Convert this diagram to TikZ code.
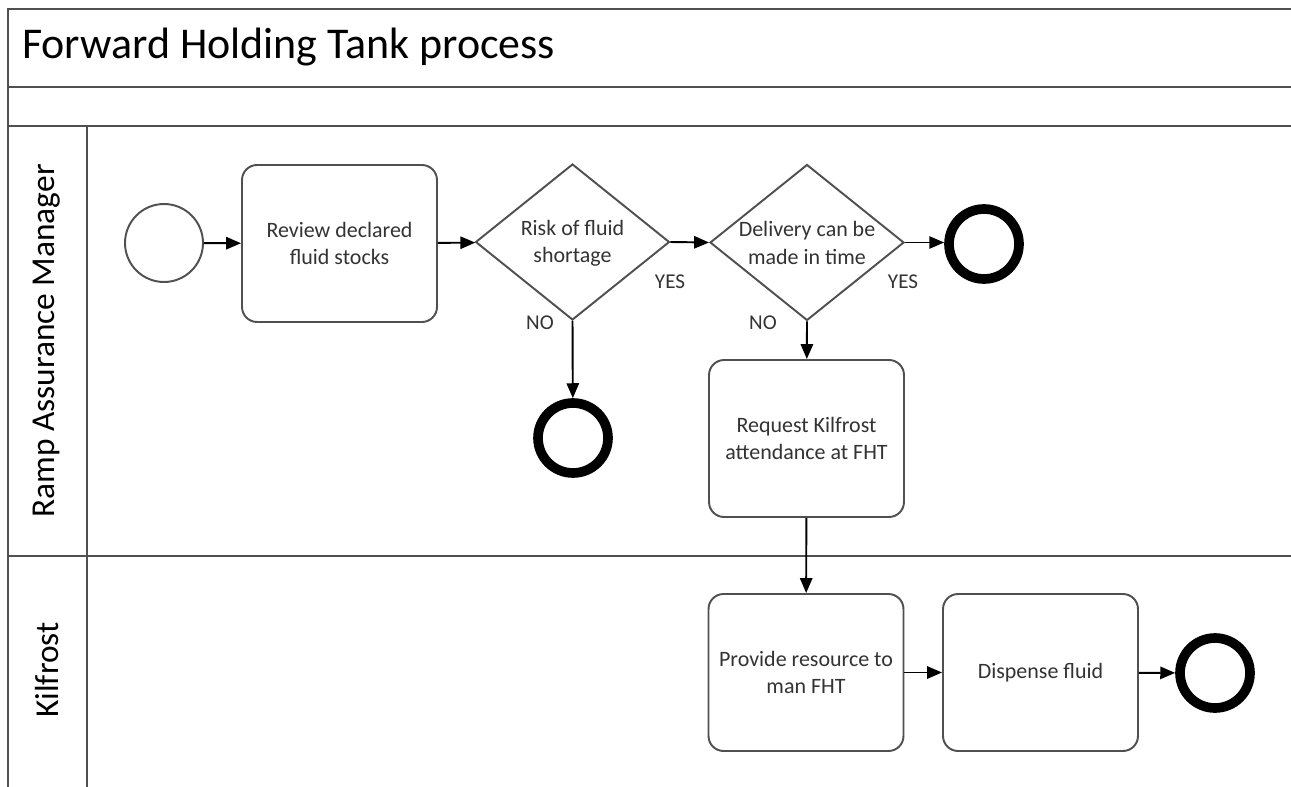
\documentclass[tikz,border=0pt]{standalone}
\usepackage{fontspec}
\setmainfont{Carlito}
\usetikzlibrary{shapes.geometric,arrows.meta}
\definecolor{linegray}{HTML}{505050}
\definecolor{txtgray}{HTML}{333333}
\tikzset{
  lane/.style={draw=linegray,line width=1.3pt},
  task/.style={draw=linegray,line width=1.1pt,rounded corners=0.3cm,minimum width=3.9cm,minimum height=3.14cm,inner sep=0pt},
  gate/.style={draw=linegray,line width=1.1pt,diamond,minimum width=3.88cm,minimum height=3.12cm,inner sep=0pt,aspect=1.24},
  startev/.style={draw=linegray,line width=1.1pt,circle,minimum size=1.56cm,inner sep=0pt},
  endev/.style={draw=black,line width=5.5pt,circle,minimum size=1.4cm,inner sep=0pt},
  txt/.style={text=txtgray,font=\fontsize{12.5}{15.5}\selectfont,align=center},
  lbl/.style={text=txtgray,font=\fontsize{12}{14}\selectfont},
  flow/.style={draw=black,line width=1.1pt,-{Triangle[length=8.5pt,width=7pt]}},
}
\begin{document}
\begin{tikzpicture}[x=0.02cm,y=-0.02cm]
\useasboundingbox[fill=white] (0,0) rectangle (1291,787);
% pool frame
\draw[lane] (1291,9) -- (8,9) -- (8,787);
\draw[lane] (8,87) -- (1291,87);
\draw[lane] (8,126) -- (1291,126);
\draw[lane] (87,126) -- (87,787);
\draw[lane] (8,556) -- (1291,556);
\node[anchor=west,text=black,font=\fontsize{25}{30}\selectfont] (title) at (16,47) {Forward Holding Tank process};
\node[rotate=90,text=black,font=\fontsize{19}{22}\selectfont] (lane1) at (47,341) {Ramp Assurance Manager};
\node[rotate=90,text=black,font=\fontsize{19}{22}\selectfont] (lane2) at (47,670) {Kilfrost};
% nodes
\node[startev] (start) at (164,243) {};
\node[task,txt] (review) at (339.5,243.5) {Review declared\\fluid stocks};
\node[gate] (d1) at (572.5,242) {};
\node[txt] (d1t) at (572.5,243) {Risk of fluid\\shortage};
\node[gate] (d2) at (807,242.5) {};
\node[txt] (d2t) at (807,243) {Delivery can be\\made in time};
\node[endev] (end1) at (984,244) {};
\node[endev] (end2) at (573,438) {};
\node[task,txt] (request) at (806.5,438.5) {Request Kilfrost\\attendance at FHT};
\node[task,txt] (provide) at (806,672.5) {Provide resource to\\man FHT};
\node[task,txt] (dispense) at (1040.5,672.5) {Dispense fluid};
\node[endev] (end3) at (1215,673) {};
% labels
\node[lbl] (yes1) at (670,282) {YES};
\node[lbl] (no1) at (540,323) {NO};
\node[lbl] (yes2) at (903,282) {YES};
\node[lbl] (no2) at (763,323) {NO};
% flows
\draw[flow] (start) -- (review);
\draw[flow] (review) -- (d1);
\draw[flow] (d1.east) -- (d2.west);
\draw[flow] (d2.east) -- (d2.east -| end1.west);
\draw[flow] (d1.south) -- (end2);
\draw[flow] (d2.south) -- (request);
\draw[flow] (request) -- (provide);
\draw[flow] (provide) -- (dispense);
\draw[flow] (dispense) -- (end3);
\end{tikzpicture}
\end{document}
